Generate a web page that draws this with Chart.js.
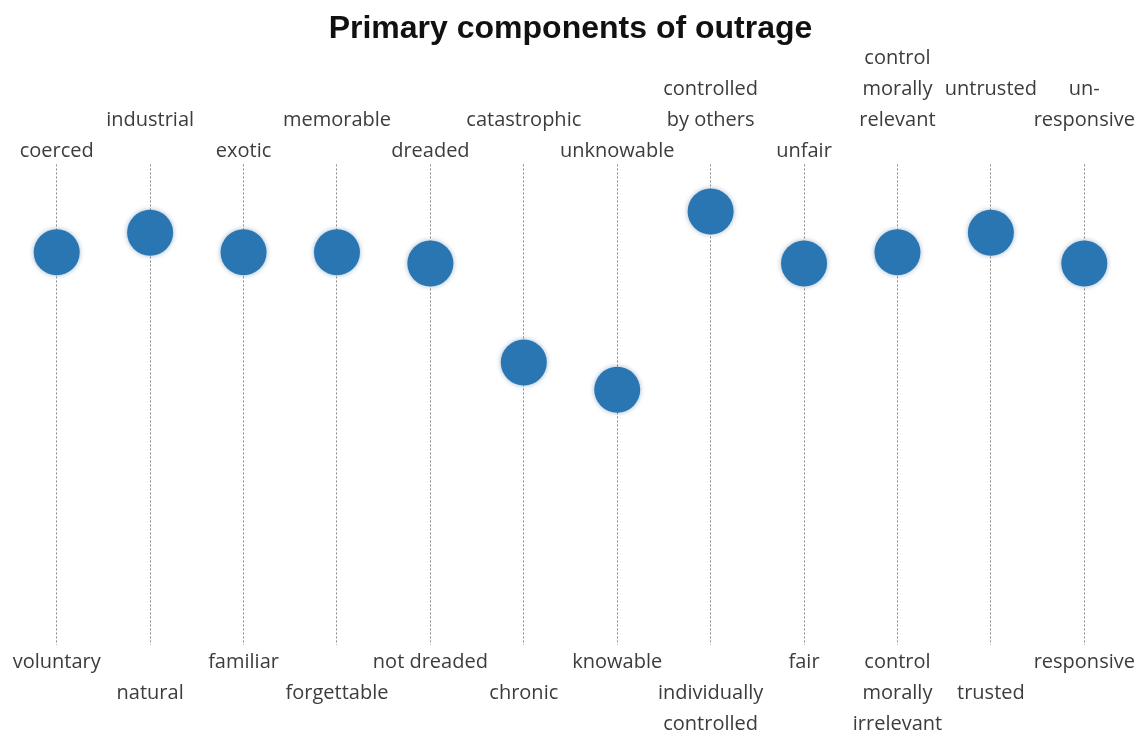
<!DOCTYPE html>
<html>
<head>
<meta charset="utf-8">
<script src="https://cdn.jsdelivr.net/npm/chart.js@4/dist/chart.umd.min.js"></script>
<style>
  body { margin: 0; background: #fff; }
  #wrap { width: 1143px; height: 742px; position: relative; }
</style>
</head>
<body>
<div id="wrap"><canvas id="outrage-chart"></canvas></div>
<script>
// top end of each scale (empty strings stagger the labels upward)
const topLabels = [
  "coerced",
  ["industrial", ""],
  "exotic",
  ["memorable", ""],
  "dreaded",
  ["catastrophic", ""],
  "unknowable",
  ["controlled", "by others", ""],
  "unfair",
  ["control", "morally", "relevant", ""],
  ["untrusted", "", ""],
  ["un-", "responsive", ""],
];

// bottom end of each scale (leading empty strings push labels down)
const bottomLabels = [
  "voluntary",
  ["", "natural"],
  "familiar",
  ["", "forgettable"],
  "not dreaded",
  ["", "chronic"],
  "knowable",
  ["", "individually", "controlled"],
  "fair",
  ["control", "morally", "irrelevant"],
  ["", "trusted"],
  "responsive",
];

// position of each risk between the bottom (0) and top (100) label
const scores = [81.7, 85.8, 81.7, 81.7, 79.4, 58.8, 53.1, 90.2, 79.4, 81.7, 85.8, 79.4];

const labelFont = { family: "Open Sans", size: 20, lineHeight: "31px" };
const textColor = "#3c3c3c";

const dotShadow = {
  id: "dotShadow",
  beforeDatasetsDraw(chart) {
    const ctx = chart.ctx;
    ctx.save();
    ctx.shadowColor = "rgba(40, 90, 140, 0.45)";
    ctx.shadowBlur = 5;
  },
  afterDatasetsDraw(chart) {
    chart.ctx.restore();
  },
};

// keep long end labels from squeezing the columns inward
function noEdgePadding(scale) {
  scale.paddingLeft = 0;
  scale.paddingRight = 0;
}

let config = {
  type: "line",
  data: {
    labels: bottomLabels,
    datasets: [
      {
        data: scores,
        showLine: false,
        pointRadius: 23,
        pointHoverRadius: 23,
        pointBorderWidth: 0,
        pointBackgroundColor: "#2a76b3",
        pointBorderColor: "#2a76b3",
      },
    ],
  },
  options: {
    responsive: true,
    maintainAspectRatio: false,
    animation: false,
    layout: { autoPadding: false, padding: { left: 10, right: 12, top: 0, bottom: 0 } },
    plugins: {
      legend: { display: false },
      tooltip: { enabled: false },
      title: {
        display: true,
        text: "Primary components of outrage",
        color: "#111",
        font: { family: "Liberation Sans", size: 32, weight: "bold" },
        padding: { top: 10, bottom: -4 },
      },
    },
    scales: {
      x: {
        type: "category",
        position: "bottom",
        offset: true,
        afterFit: noEdgePadding,
        grid: { color: "#8a8a8a", lineWidth: 1, drawTicks: false },
        border: { display: false, dash: [2, 2] },
        ticks: { color: textColor, font: labelFont, padding: 2, maxRotation: 0, autoSkip: false },
      },
      xTop: {
        type: "category",
        position: "top",
        labels: topLabels,
        offset: true,
        afterFit: noEdgePadding,
        grid: { display: false, drawTicks: false },
        border: { display: false },
        ticks: { color: textColor, font: labelFont, padding: -2, maxRotation: 0, autoSkip: false },
      },
      y: {
        display: false,
        min: 0,
        max: 100,
      },
    },
  },
  plugins: [dotShadow],
};

let ctx = document.getElementById("outrage-chart").getContext("2d");
window.myChart = new Chart(ctx, config);
</script>
</body>
</html>
